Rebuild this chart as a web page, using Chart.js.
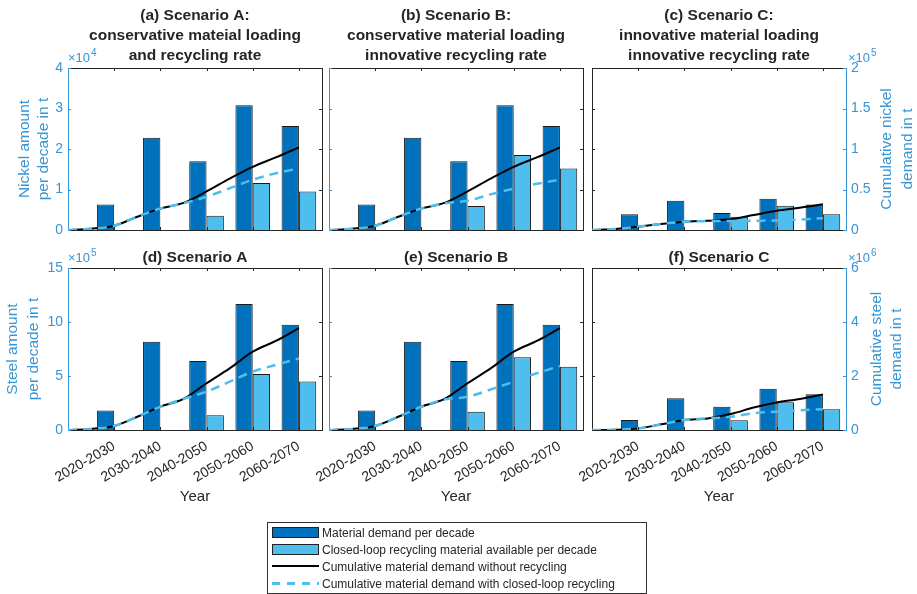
<!DOCTYPE html>
<html>
<head>
<meta charset="utf-8">
<script src="https://cdn.jsdelivr.net/npm/chart.js@4.4.0/dist/chart.umd.min.js"></script>
<style>
body { margin: 0; width: 917px; height: 594px; overflow: hidden; background: #fff; position: relative;
       font-family: "Liberation Sans", Arial, sans-serif; }
canvas { position: absolute; }
#legend { position: absolute; left: 267px; top: 522px; width: 378px; height: 68px; border: 1px solid #333;
          padding-top: 2px; box-sizing: content-box; font-size: 12px; color: #262626; }
#legend .row { height: 17px; line-height: 17px; white-space: nowrap; }
#legend .key { display: inline-block; width: 47px; height: 11px; margin: 0 3px 0 4px; vertical-align: -1px; box-sizing: border-box; }
#legend .dark { background: #0072BD; border: 1px solid #222; }
#legend .light { background: #4DBEEE; border: 1px solid #222; }
#legend .solid { height: 2px; background: #000; vertical-align: 4px; }
#legend .dash { height: 3px; vertical-align: 3px; background: repeating-linear-gradient(90deg, #4DBEEE 0 8px, transparent 8px 15px); }
</style>
</head>
<body>
<canvas id="pa" width="396" height="316"></canvas>
<canvas id="pb" width="396" height="316"></canvas>
<canvas id="pc" width="396" height="316"></canvas>
<canvas id="pd" width="396" height="316"></canvas>
<canvas id="pe" width="396" height="316"></canvas>
<canvas id="pf" width="396" height="316"></canvas>
<div id="legend">
  <div class="row"><span class="key dark"></span>Material demand per decade</div>
  <div class="row"><span class="key light"></span>Closed-loop recycling material available per decade</div>
  <div class="row"><span class="key solid"></span>Cumulative material demand without recycling</div>
  <div class="row"><span class="key dash"></span>Cumulative material demand with closed-loop recycling</div>
</div>
<script>
// decades (bars sit at x = 1..5, one unit per decade, 2020 at x = 0)
const decades = ['2020-2030', '2030-2040', '2040-2050', '2050-2060', '2060-2070'];
const decadePos = [1, 2, 3, 4, 5];
const lineYears = [2020, 2025, 2030, 2035, 2040, 2045, 2050, 2055, 2060, 2065, 2070];

// nickel per decade, t
const nickelDemandAB = [6300, 22800, 17000, 30800, 25700];
const nickelRecycledA = [0, 0, 3500, 11600, 9500];
const nickelRecycledB = [0, 0, 5900, 18500, 15200];
const nickelDemandC = [3900, 7200, 4200, 7700, 6300];
const nickelRecycledC = [0, 0, 3300, 6000, 3900];

// cumulative nickel, t
const nickelCumAB = [0, 1600, 5300, 16400, 26500, 33500, 47600, 63400, 78000, 89700, 102000];
const nickelCumWithA = [0, 1600, 5300, 16400, 26500, 33000, 41000, 51500, 62000, 70000, 76000];
const nickelCumWithB = [0, 1600, 5300, 16400, 26500, 33000, 36000, 44000, 51000, 57000, 62000];
const nickelCumC = [0, 1200, 4100, 7400, 10300, 11500, 13200, 18500, 23900, 27500, 31700];
const nickelCumWithC = [0, 1200, 4100, 7400, 10300, 11000, 11200, 11500, 11800, 13000, 14500];

// steel per decade, t
const steelDemandAB = [180000, 818000, 639000, 1167000, 975000];
const steelRecycledA = [0, 0, 136000, 519000, 448000];
const steelRecycledB = [0, 0, 170000, 673000, 586000];
const steelDemandC = [93000, 293000, 216000, 383000, 330000];
const steelRecycledC = [0, 0, 90000, 256000, 191000];

// cumulative steel, t
const steelCumAB = [0, 40000, 150000, 490000, 860000, 1150000, 1730000, 2280000, 2900000, 3300000, 3770000];
const steelCumWithA = [0, 40000, 150000, 490000, 860000, 1150000, 1420000, 1790000, 2160000, 2410000, 2650000];
const steelCumWithB = [0, 40000, 150000, 490000, 860000, 1130000, 1230000, 1500000, 1790000, 2100000, 2370000];
const steelCumC = [0, 10000, 60000, 210000, 370000, 430000, 590000, 830000, 1020000, 1150000, 1320000];
const steelCumWithC = [0, 10000, 60000, 210000, 370000, 430000, 490000, 620000, 680000, 730000, 770000];

const ink = '#262626';
const axisBlue = '#3795d5';
const darkBar = '#0072BD';
const lightBar = '#4DBEEE';
const FONT = '"Liberation Sans", Arial, sans-serif';

Chart.defaults.font.family = FONT;
Chart.defaults.color = ink;

// axis ranges and labels per material; title offsets are distances from the plot edge
const materials = {
  nickel: { yMax: 40000, yStep: 10000, yDiv: 1e4, yExp: '4', y2Max: 200000, y2Step: 50000, y2Div: 1e5, y2Exp: '5',
            leftTitle: ['Nickel amount', 'per decade in t'], leftOff: [-43, -24],
            rightTitle: ['Cumulative nickel', 'demand in t'], rightOff: [41, 62] },
  steel: { yMax: 1500000, yStep: 500000, yDiv: 1e5, yExp: '5', y2Max: 6000000, y2Step: 2000000, y2Div: 1e6, y2Exp: '6',
           leftTitle: ['Steel amount', 'per decade in t'], leftOff: [-55, -34],
           rightTitle: ['Cumulative steel', 'demand in t'], rightOff: [31, 51] }
};

function fmt(v) { return String(Math.round(v * 100) / 100); }

function drawExp(ctx, x, y, exp, color) {
  ctx.fillStyle = color;
  ctx.textAlign = 'left';
  ctx.textBaseline = 'alphabetic';
  ctx.font = '13px ' + FONT;
  ctx.fillText('\u00d710', x, y);
  const w = ctx.measureText('\u00d710').width;
  ctx.font = '10px ' + FONT;
  ctx.fillText(exp, x + w + 1, y - 6);
}

// titles, axis titles, top frame and inward tick marks
const panelText = {
  id: 'panelText',
  afterDraw(chart, args, o) {
    const ctx = chart.ctx, a = chart.chartArea;
    const xs = chart.scales.x, ys = chart.scales.y;
    ctx.save();
    ctx.lineWidth = 1;
    ctx.strokeStyle = ink;
    ctx.beginPath();
    ctx.moveTo(a.left, a.top + 0.5); ctx.lineTo(a.right, a.top + 0.5);
    xs.ticks.forEach(t => {
      const px = Math.round(xs.getPixelForValue(t.value)) + 0.5;
      ctx.moveTo(px, a.top); ctx.lineTo(px, a.top + 3);
      ctx.moveTo(px, a.bottom); ctx.lineTo(px, a.bottom - 3);
    });
    ctx.stroke();
    ys.ticks.forEach(t => {
      const py = Math.round(ys.getPixelForValue(t.value)) + 0.5;
      ctx.strokeStyle = o.leftColor;
      ctx.beginPath(); ctx.moveTo(a.left, py); ctx.lineTo(a.left + 3, py); ctx.stroke();
      ctx.strokeStyle = o.rightColor;
      ctx.beginPath(); ctx.moveTo(a.right, py); ctx.lineTo(a.right - 3, py); ctx.stroke();
    });

    const cx = (a.left + a.right) / 2, cy = (a.top + a.bottom) / 2;
    ctx.fillStyle = ink;
    ctx.textAlign = 'center';
    ctx.textBaseline = 'middle';
    ctx.font = 'bold 15.5px ' + FONT;
    const n = o.title.length;
    const gap = n > 1 ? 12 : 10;
    o.title.forEach((line, i) => ctx.fillText(line, cx, a.top - gap - (n - 1 - i) * 20));

    ctx.font = '15px ' + FONT;
    if (o.showX) ctx.fillText('Year', cx, a.bottom + 67);

    ctx.font = '15.5px ' + FONT;
    ctx.fillStyle = axisBlue;
    if (o.leftTitle) {
      ctx.save();
      ctx.translate(a.left, cy);
      ctx.rotate(-Math.PI / 2);
      ctx.fillText(o.leftTitle[0], 0, o.leftOff[0]);
      ctx.fillText(o.leftTitle[1], 0, o.leftOff[1]);
      ctx.restore();
      drawExp(ctx, a.left, a.top - 6, o.leftExp, axisBlue);
    }
    if (o.rightTitle) {
      ctx.save();
      ctx.translate(a.right, cy);
      ctx.rotate(-Math.PI / 2);
      ctx.fillText(o.rightTitle[0], 0, o.rightOff[0]);
      ctx.fillText(o.rightTitle[1], 0, o.rightOff[1]);
      ctx.restore();
      drawExp(ctx, a.right + 2, a.top - 6, o.rightExp, axisBlue);
    }
    ctx.restore();
  }
};

function points(years, values) {
  return years.map((yr, i) => ({ x: (yr - 2020) / 10, y: values[i] }));
}

function makePanel(p) {
  const m = materials[p.material];
  const canvas = document.getElementById(p.id);
  canvas.style.left = (p.left - 70) + 'px';
  canvas.style.top = (p.top - 70) + 'px';
  const showLeft = p.col === 0, showRight = p.col === 2, showX = p.row === 1;
  const leftColor = p.col === 2 ? ink : axisBlue;
  const rightColor = p.col === 2 ? axisBlue : ink;

  return new Chart(canvas, {
    type: 'bar',
    data: {
      datasets: [
        { type: 'line', yAxisID: 'y2', data: points(lineYears, p.cumWith), borderColor: lightBar, borderWidth: 2.5,
          borderDash: [9, 6], pointRadius: 0, cubicInterpolationMode: 'monotone', order: 0 },
        { type: 'line', yAxisID: 'y2', data: points(lineYears, p.cumNo), borderColor: '#000', borderWidth: 2,
          pointRadius: 0, cubicInterpolationMode: 'monotone', order: 1 },
        { yAxisID: 'y', data: decadePos.map((x, i) => ({ x: x, y: p.demand[i] })), backgroundColor: darkBar,
          borderColor: '#1a1a1a', borderWidth: 1, categoryPercentage: 0.75, barPercentage: 1, order: 2 },
        { yAxisID: 'y', data: decadePos.map((x, i) => ({ x: x, y: p.recycled[i] })), backgroundColor: lightBar,
          borderColor: '#1a1a1a', borderWidth: 1, categoryPercentage: 0.75, barPercentage: 1, order: 3 }
      ]
    },
    options: {
      responsive: false,
      animation: false,
      devicePixelRatio: 1,
      events: [],
      layout: { padding: { top: 70, left: 0, right: 0, bottom: 0 } },
      plugins: {
        legend: { display: false },
        tooltip: { enabled: false },
        panelText: { title: p.title, showX: showX, leftColor: leftColor, rightColor: rightColor,
                     leftTitle: showLeft ? m.leftTitle : null, leftOff: m.leftOff,
                     rightTitle: showRight ? m.rightTitle : null, rightOff: m.rightOff,
                     leftExp: m.yExp, rightExp: m.y2Exp }
      },
      scales: {
        x: {
          type: 'linear', position: 'bottom', min: 0, max: 5.5, offset: false,
          afterBuildTicks: s => { s.ticks = decadePos.map(v => ({ value: v })); },
          afterFit: s => { s.height = 84; },
          grid: { display: false, drawTicks: false, offset: false },
          border: { display: true, color: ink, width: 1 },
          ticks: { display: showX, autoSkip: false, minRotation: 30, maxRotation: 30, padding: 8,
                   color: ink, font: { size: 14 }, callback: v => decades[v - 1] }
        },
        y: {
          position: 'left', min: 0, max: m.yMax,
          afterFit: s => { s.width = 70; },
          grid: { display: false, drawTicks: false },
          border: { display: true, color: leftColor, width: 1 },
          ticks: { display: showLeft, stepSize: m.yStep, padding: 5, color: axisBlue, font: { size: 14 },
                   callback: v => fmt(v / m.yDiv) }
        },
        y2: {
          position: 'right', min: 0, max: m.y2Max,
          afterFit: s => { s.width = 72; },
          grid: { display: false, drawTicks: false },
          border: { display: true, color: rightColor, width: 1 },
          ticks: { display: showRight, stepSize: m.y2Step, padding: 5, color: axisBlue, font: { size: 14 },
                   callback: v => fmt(v / m.y2Div) }
        }
      }
    },
    plugins: [panelText]
  });
}

const panels = [
  { id: 'pa', row: 0, col: 0, left: 68, top: 68, material: 'nickel',
    title: ['(a) Scenario A:', 'conservative mateial loading', 'and recycling rate'],
    demand: nickelDemandAB, recycled: nickelRecycledA, cumNo: nickelCumAB, cumWith: nickelCumWithA },
  { id: 'pb', row: 0, col: 1, left: 329, top: 68, material: 'nickel',
    title: ['(b) Scenario B:', 'conservative material loading', 'innovative recycling rate'],
    demand: nickelDemandAB, recycled: nickelRecycledB, cumNo: nickelCumAB, cumWith: nickelCumWithB },
  { id: 'pc', row: 0, col: 2, left: 592, top: 68, material: 'nickel',
    title: ['(c) Scenario C:', 'innovative material loading', 'innovative recycling rate'],
    demand: nickelDemandC, recycled: nickelRecycledC, cumNo: nickelCumC, cumWith: nickelCumWithC },
  { id: 'pd', row: 1, col: 0, left: 68, top: 268, material: 'steel', title: ['(d) Scenario A'],
    demand: steelDemandAB, recycled: steelRecycledA, cumNo: steelCumAB, cumWith: steelCumWithA },
  { id: 'pe', row: 1, col: 1, left: 329, top: 268, material: 'steel', title: ['(e) Scenario B'],
    demand: steelDemandAB, recycled: steelRecycledB, cumNo: steelCumAB, cumWith: steelCumWithB },
  { id: 'pf', row: 1, col: 2, left: 592, top: 268, material: 'steel', title: ['(f) Scenario C'],
    demand: steelDemandC, recycled: steelRecycledC, cumNo: steelCumC, cumWith: steelCumWithC }
];

panels.forEach(makePanel);
</script>
</body>
</html>
